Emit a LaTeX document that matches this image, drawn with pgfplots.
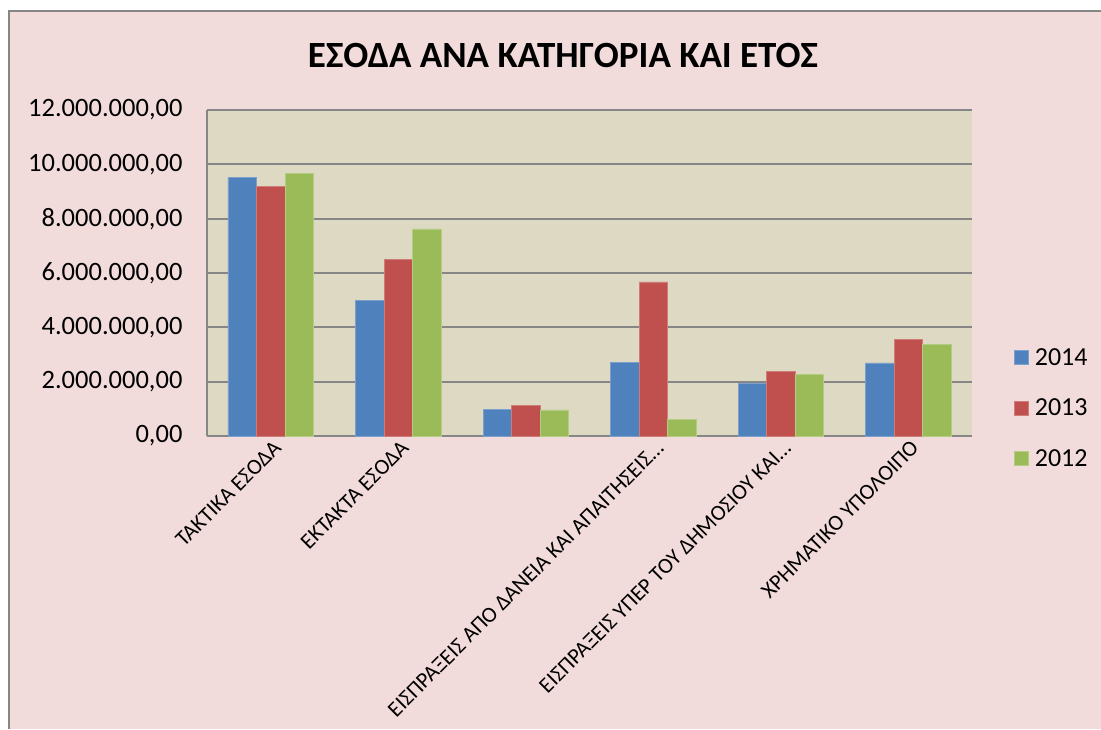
\documentclass[border=0pt]{standalone}
\usepackage{pgfplots}
\pgfplotsset{compat=1.18}
\usepackage{fontspec}
\setmainfont{Carlito}
\definecolor{pinkbg}{HTML}{F2DCDB}
\definecolor{plotbg}{HTML}{DDD9C3}
\definecolor{gridgray}{HTML}{868686}
\definecolor{c14}{HTML}{4F81BD}
\definecolor{c13}{HTML}{C0504D}
\definecolor{c12}{HTML}{9BBB59}

\begin{document}
\begin{tikzpicture}
% background of the chart area
\path[use as bounding box, fill=white] (0,0) rectangle (1101pt,729pt);
\fill[pinkbg] (9pt,0) rectangle (1101pt,718pt);
\draw[gridgray, line width=1.5pt] (9pt,0) -- (9pt,718pt) -- (1101pt,718pt);
\node[font=\fontsize{37}{44}\selectfont\bfseries] at (563pt,673pt) {ΕΣΟΔΑ ΑΝΑ ΚΑΤΗΓΟΡΙΑ ΚΑΙ ΕΤΟΣ};

\begin{axis}[
    at={(207pt,293pt)}, anchor=south west,
    scale only axis, width=765pt, height=326pt,
    ybar=0pt, bar width=28.5pt,
    xmin=-0.5, xmax=5.5, ymin=0, ymax=12000000,
    ytick={0,2000000,4000000,6000000,8000000,10000000,12000000},
    scaled y ticks=false,
    xtick={0,1,2,3,4,5},
    xticklabels={ΤΑΚΤΙΚΑ ΕΣΟΔΑ, ΕΚΤΑΚΤΑ ΕΣΟΔΑ, {}, {ΕΙΣΠΡΑΞΕΙΣ ΑΠΟ ΔΑΝΕΙΑ ΚΑΙ ΑΠΑΙΤΗΣΕΙΣ…}, {ΕΙΣΠΡΑΞΕΙΣ ΥΠΕΡ ΤΟΥ ΔΗΜΟΣΙΟΥ ΚΑΙ…}, ΧΡΗΜΑΤΙΚΟ ΥΠΟΛΟΙΠΟ},
    xticklabel style={font=\fontsize{22}{26}\selectfont, rotate=45, anchor=north east, xshift=2pt},
    yticklabel style={font=\fontsize{26.5}{30}\selectfont, xshift=-21pt,
        /pgf/number format/.cd, fixed, fixed zerofill, precision=2, use comma, 1000 sep={.}, assume math mode=true},
    major tick length=0pt,
    axis x line*=bottom, axis y line*=left,
    axis line style={-, gridgray, line width=2pt},
    ymajorgrids, grid style={gridgray, line width=2pt},
    axis background/.style={fill=plotbg},
    legend style={at={(1.055,0.086)}, anchor=west, draw=none, fill=none,
        font=\fontsize{26}{30}\selectfont, row sep=28pt, inner sep=0pt,
        /tikz/every odd column/.append style={column sep=4pt}},
    legend cell align=left,
    legend image code/.code={\fill[#1] (0pt,-7pt) rectangle (14pt,7pt);},
]
\addplot[fill=c14, draw=c14!75!white, line width=0.6pt] coordinates {
    (0,9520000) (1,5000000) (2,980000) (3,2710000) (4,1930000) (5,2690000)
};
\addlegendentry{2014}
\addplot[fill=c13, draw=c13!75!white, line width=0.6pt] coordinates {
    (0,9180000) (1,6510000) (2,1140000) (3,5670000) (4,2370000) (5,3560000)
};
\addlegendentry{2013}
\addplot[fill=c12, draw=c12!75!white, line width=0.6pt] coordinates {
    (0,9680000) (1,7620000) (2,960000) (3,610000) (4,2270000) (5,3380000)
};
\addlegendentry{2012}
\end{axis}
\end{tikzpicture}
\end{document}
